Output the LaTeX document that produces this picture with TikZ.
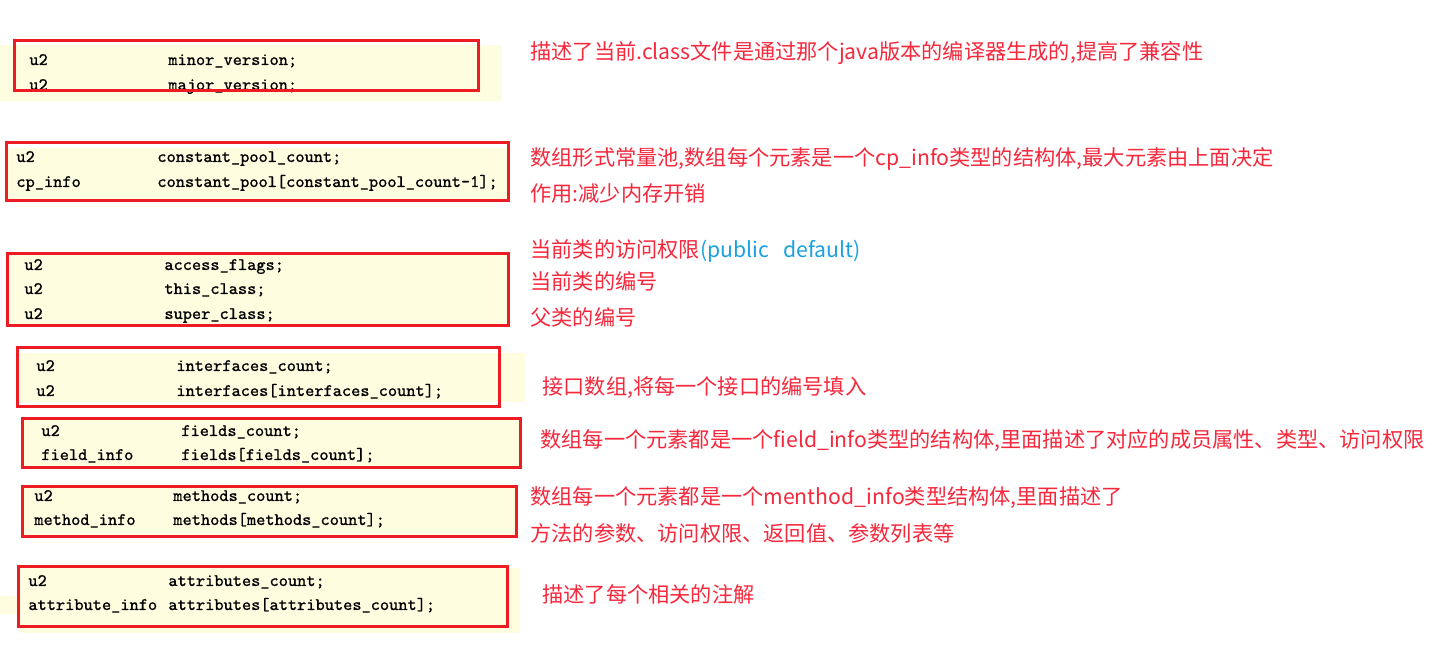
\documentclass[tikz,border=0pt]{standalone}
\usepackage{fontspec}
\newfontfamily\cjk{Noto Sans CJK SC}
\newfontfamily\codefont[FakeBold=0.6]{Latin Modern Mono}
\definecolor{boxred}{RGB}{237,28,36}
\definecolor{notered}{RGB}{245,40,60}
\definecolor{noteblue}{RGB}{27,161,226}
\definecolor{cream}{RGB}{255,253,224}
\tikzset{
  code/.style={anchor=base west, inner sep=0pt, font=\codefont\fontsize{8.76}{10}\selectfont, text=black},
  note/.style={anchor=base west, inner sep=0pt, font=\cjk\fontsize{10.6}{12}\selectfont, text=notered},
  frame/.style={draw=boxred, line width=1.5pt},
  bg/.style={fill=cream, draw=none}
}
\begin{document}
\begin{tikzpicture}[x=0.5pt,y=-0.5pt]
\useasboundingbox (0,0) rectangle (1448,662);
\fill[white] (0,0) rectangle (1448,662);

% yellow backgrounds
\fill[bg] (0,45) rectangle (502,101);
\fill[bg] (7,148) rectangle (507,199);
\fill[bg] (8,254) rectangle (507,326);
\fill[bg] (18,353) rectangle (525,402);
\fill[bg] (23,419) rectangle (519,468);
\fill[bg] (23,487) rectangle (515,537);
\fill[bg] (19,568) rectangle (520,633);
\fill[bg] (0,596) rectangle (19,614);

% box 1
\node[code] (a1) at (29,65) {u2};
\node[code] (b1) at (168,65) {minor\_version;};
\node[code] (a2) at (29,90) {u2};
\node[code] (b2) at (168,90) {major\_version;};
% box 2
\node[code] (c1) at (16,162) {u2};
\node[code] (d1) at (157,162) {constant\_pool\_count;};
\node[code] (c2) at (16,187) {cp\_info};
\node[code] (d2) at (157,187) {constant\_pool[constant\_pool\_count-1];};
% box 3
\node[code] (e1) at (24,270) {u2};
\node[code] (f1) at (164,270) {access\_flags;};
\node[code] (e2) at (24,294) {u2};
\node[code] (f2) at (164,294) {this\_class;};
\node[code] (e3) at (24,319) {u2};
\node[code] (f3) at (164,319) {super\_class;};
% box 4
\node[code] (g1) at (36,371) {u2};
\node[code] (h1) at (176,371) {interfaces\_count;};
\node[code] (g2) at (36,396) {u2};
\node[code] (h2) at (176,396) {interfaces[interfaces\_count];};
% box 5
\node[code] (i1) at (41,436) {u2};
\node[code] (j1) at (181,436) {fields\_count;};
\node[code] (i2) at (41,460) {field\_info};
\node[code] (j2) at (181,460) {fields[fields\_count];};
% box 6
\node[code] (k1) at (34,501) {u2};
\node[code] (l1) at (173,501) {methods\_count;};
\node[code] (k2) at (34,525) {method\_info};
\node[code] (l2) at (173,525) {methods[methods\_count];};
% box 7
\node[code] (m1) at (28,586) {u2};
\node[code] (n1) at (168,586) {attributes\_count;};
\node[code] (m2) at (28,610) {attribute\_info};
\node[code] (n2) at (168,610) {attributes[attributes\_count];};

% red frames
\draw[frame] (14,41) rectangle (478,91);
\draw[frame] (6,143) rectangle (508,201);
\draw[frame] (7,254) rectangle (508,326);
\draw[frame] (17,348) rectangle (499,407);
\draw[frame] (22,419) rectangle (520,468);
\draw[frame] (22,487) rectangle (516,537);
\draw[frame] (18,567) rectangle (507,627);

% notes
\node[note] (t1) at (530,60) {描述了当前.class文件是通过那个java版本的编译器生成的,提高了兼容性};
\node[note] (t2) at (530,166) {数组形式常量池,数组每个元素是一个cp\_info类型的结构体,最大元素由上面决定};
\node[note] (t3) at (530,202) {作用:减少内存开销};
\node[note] (t4) at (530,258) {当前类的访问权限\textcolor{noteblue}{(public~~~default)}};
\node[note] (t5) at (530,290) {当前类的编号};
\node[note] (t6) at (530,326) {父类的编号};
\node[note] (t7) at (542,395) {接口数组,将每一个接口的编号填入};
\node[note] (t8) at (540,448) {数组每一个元素都是一个field\_info类型的结构体,里面描述了对应的成员属性、类型、访问权限};
\node[note] (t9) at (530,505) {数组每一个元素都是一个menthod\_info类型结构体,里面描述了};
\node[note] (t10) at (530,542) {方法的参数、访问权限、返回值、参数列表等};
\node[note] (t11) at (542,603) {描述了每个相关的注解};
\end{tikzpicture}
\end{document}
